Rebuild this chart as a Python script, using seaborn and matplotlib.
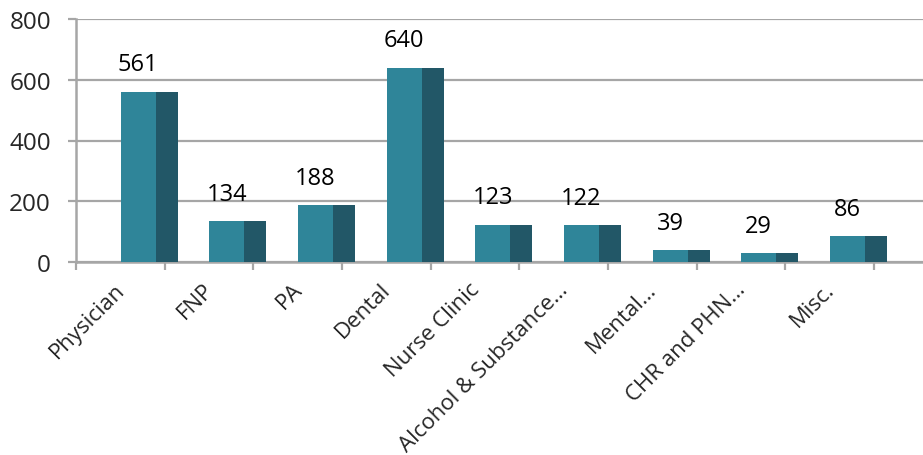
import numpy as np
import pandas as pd
import matplotlib
matplotlib.use("Agg")
import matplotlib.pyplot as plt
import seaborn as sns

categories = ["Physician", "FNP", "PA", "Dental", "Nurse Clinic",
              "Alcohol & Substance\u2026", "Mental\u2026", "CHR and PHN\u2026", "Misc."]
values = [561, 134, 188, 640, 123, 122, 39, 29, 86]
yticks = [0, 200, 400, 600, 800]

sns.set_theme(style="white")
plt.rcParams['font.family'] = ['Open Sans', 'DejaVu Sans']

front_col = "#2F8599"
side_col = "#225767"
grid_col = "#A6A6A6"

df = pd.DataFrame({"cat": categories, "val": values})

fig = plt.figure(figsize=(9.23, 4.56), dpi=100)
ax = fig.add_axes([76/923, 1 - 263/456, 1 - 76/923, (263 - 20)/456])

front_w = 0.394
side_w = 0.248
sns.barplot(data=df, x="cat", y="val", color=front_col, saturation=1,
            width=front_w, ax=ax, zorder=3, linewidth=0)
pos = np.arange(len(categories))
ax.bar(pos + front_w/2 + side_w/2, values, width=side_w, color=side_col,
       zorder=3, linewidth=0)

for p, v in zip(pos, values):
    ax.annotate(str(v), (p, v), xytext=(0, 11), textcoords="offset points",
                ha="center", va="bottom", fontsize=17, color="black")

ax.set_xlim(-0.6926, 8.852)
ax.set_ylim(0, 800)
ax.set_yticks(yticks)
ax.set_yticklabels([str(t) for t in yticks], fontsize=17.5)
ax.yaxis.grid(True, color=grid_col, linewidth=1.6, zorder=0)
ax.set_axisbelow(True)

# category labels (major ticks, no mark) and boundary marks (minor ticks)
ax.set_xticks(pos - 0.27)
ax.set_xticklabels(categories, rotation=45, ha="right", rotation_mode="anchor",
                   fontsize=16)
ax.set_xticks(np.arange(-1, len(categories)) + 0.30, minor=True)
ax.tick_params(axis="x", which="major", length=0, pad=12)
ax.tick_params(axis="x", which="minor", length=6, width=1.6, color=grid_col,
               direction="out", bottom=True)
ax.tick_params(axis="y", which="major", length=6, width=1.6, color=grid_col,
               direction="out", left=True, pad=12)

ax.set_xlabel("")
ax.set_ylabel("")
for s in ["top", "right"]:
    ax.spines[s].set_visible(False)
for s in ["left", "bottom"]:
    ax.spines[s].set_color(grid_col)
    ax.spines[s].set_linewidth(1.8)

fig.savefig("out.png", dpi=100)
